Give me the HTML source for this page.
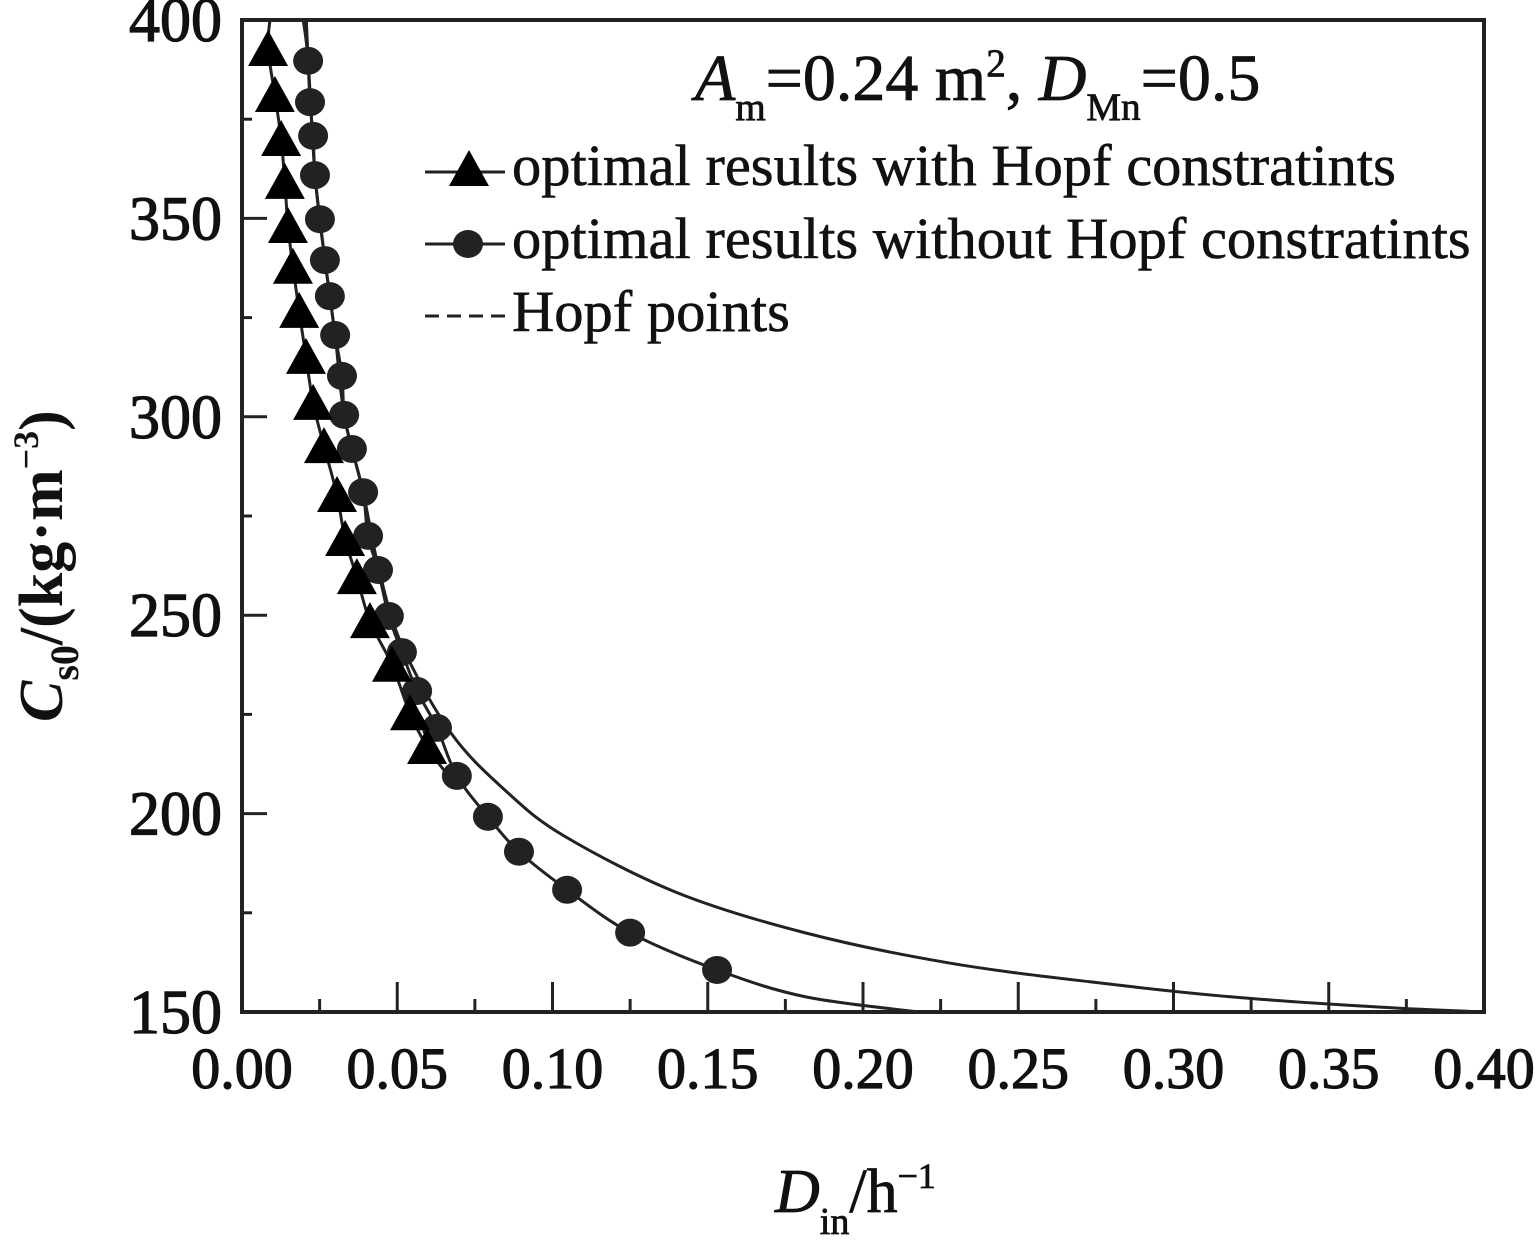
<!DOCTYPE html>
<html><head><meta charset="utf-8"><style>
body{margin:0;background:#fff}
svg{display:block}
text{font-family:"Liberation Serif",serif;fill:#111}
</style></head><body>
<svg id="chart" width="1536" height="1240" viewBox="0 0 1536 1240" xmlns="http://www.w3.org/2000/svg">
<g id="axes"></g>
<g id="series"></g>
<text x="695" y="100" font-size="66" stroke="#111" stroke-width="0.8"><tspan font-style="italic">A</tspan><tspan font-size="39" dy="20">m</tspan><tspan dy="-20">=0.24 m</tspan><tspan font-size="39" dy="-24">2</tspan><tspan dy="24">, </tspan><tspan font-style="italic">D</tspan><tspan font-size="39" dy="20">Mn</tspan><tspan dy="-20">=0.5</tspan></text>
<g>
 <g>
  <line x1="425" y1="172" x2="505" y2="172" stroke="#222" stroke-width="3"/>
  <polygon points="469,150 489,186 449,186" fill="#000"/>
  <text x="512" y="185" font-size="58.5" stroke="#111" stroke-width="0.6">optimal results with Hopf constratints</text>
 </g>
 <g>
  <line x1="425" y1="244" x2="505" y2="244" stroke="#222" stroke-width="3"/>
  <ellipse cx="468" cy="244" rx="15" ry="14" fill="#222"/>
  <text x="512" y="258" font-size="58.5" stroke="#111" stroke-width="0.6">optimal results without Hopf constratints</text>
 </g>
 <g>
  <line x1="425" y1="316" x2="505" y2="316" stroke="#222" stroke-width="3" stroke-dasharray="14,8"/>
  <text x="512" y="331" font-size="58.5" stroke="#111" stroke-width="0.6">Hopf points</text>
 </g>
</g>
<text x="775" y="1212" font-size="62" stroke="#111" stroke-width="0.8"><tspan font-style="italic">D</tspan><tspan font-size="38" dy="22">in</tspan><tspan dy="-22">/h</tspan><tspan font-size="36" dy="-24">−1</tspan></text>
<text transform="translate(62,722) rotate(-90)" font-size="62" font-weight="bold"><tspan font-style="italic">C</tspan><tspan font-size="40" dy="16">s0</tspan><tspan dy="-16">/(kg·m</tspan><tspan font-size="36" dy="-24">−3</tspan><tspan dy="24">)</tspan></text>
</svg>
<script>
const xTicks=["0.00","0.05","0.10","0.15","0.20","0.25","0.30","0.35","0.40"];
const yTicks=["150","200","250","300","350","400"];
const triX=[0.0084,0.0106,0.0126,0.0138,0.0148,0.0164,0.0184,0.0206,0.0229,0.0264,0.0306,0.0332,0.0370,0.0412,0.0483,0.0541,0.0596];
const triY=[392.7,381.1,370.0,359.2,348.1,337.8,326.7,315.1,303.5,292.6,280.3,269.2,259.6,248.5,237.5,225.3,216.8];
const cirX=[0.0213,0.0219,0.0229,0.0235,0.0251,0.0267,0.0283,0.0300,0.0322,0.0329,0.0354,0.0390,0.0406,0.0438,0.0473,0.0515,0.0564,0.0628,0.0692,0.0792,0.0892,0.1047,0.1250,0.1530];
const cirY=[389.7,379.3,370.8,360.9,349.8,339.5,330.4,320.6,310.3,300.5,291.9,281.0,270.0,261.4,249.8,240.7,230.9,221.6,209.5,199.2,190.4,180.8,170.0,160.6];
const cirTailX=[0.1816,0.218];
const cirTailY=[153.8,150];
const hopfX=[0.0197,0.0213,0.0235,0.0267,0.0300,0.0329,0.0390,0.0438,0.0512,0.0673,0.0857,0.1043,0.1404,0.1816,0.2274,0.2731,0.3188,0.3646,0.40];
const hopfY=[400,389.7,360.9,339.5,320.6,300.5,281.0,262.6,243.0,220.3,205.2,194.1,180.0,169.9,162.4,157.6,153.8,151.3,150];

const X0=242,X1=1484,Y0=1012,Y1=20;
const sx=v=>X0+(v-0)/(0.40)*(X1-X0);
const sy=v=>Y0-(v-150)/(250)*(Y0-Y1);
const NS="http://www.w3.org/2000/svg";
function mk(tag,parent,attrs){const e=document.createElementNS(NS,tag);for(const k in attrs)e.setAttribute(k,attrs[k]);parent.appendChild(e);return e;}
const axes=document.getElementById('axes'),series=document.getElementById('series');

const frame=mk('rect',axes,{x:X0,y:Y1,width:X1-X0,height:Y0-Y1,fill:'none',stroke:'#222','stroke-width':4});


for(let i=0;i<=16;i++){
 const v=i*0.025,x=sx(v),maj=i%2===0;
 const t=mk('line',axes,{x1:x,x2:x,y1:Y0,y2:Y0-(maj?30:13),stroke:'#222','stroke-width':3});
 
 
}
xTicks.forEach(s=>{
 const t=mk('text',axes,{x:sx(parseFloat(s)),y:1088,'font-size':58,'text-anchor':'middle',stroke:'#111','stroke-width':1.2});
 t.textContent=s;
 
 
});
for(let i=0;i<=10;i++){
 const v=150+i*25,y=sy(v),maj=i%2===0;
 const t=mk('line',axes,{x1:X0,x2:X0+(maj?25:10),y1:y,y2:y,stroke:'#222','stroke-width':3});
 
 
}
yTicks.forEach(s=>{
 const t=mk('text',axes,{x:222,y:sy(parseFloat(s))+21,'font-size':62,'text-anchor':'end',stroke:'#111','stroke-width':1.2});
 t.textContent=s;
 
 
});
function path(xs,ys){
 const p=xs.map((v,i)=>[sx(v),sy(ys[i])]);
 let d='M'+p[0][0].toFixed(1)+','+p[0][1].toFixed(1);
 for(let i=0;i<p.length-1;i++){
  const a=p[Math.max(0,i-1)],b=p[i],c=p[i+1],e=p[Math.min(p.length-1,i+2)];
  const c1=[b[0]+(c[0]-a[0])/6,b[1]+(c[1]-a[1])/6],c2=[c[0]-(e[0]-b[0])/6,c[1]-(e[1]-b[1])/6];
  d+=' C'+c1.map(n=>n.toFixed(1)).join(',')+' '+c2.map(n=>n.toFixed(1)).join(',')+' '+c[0].toFixed(1)+','+c[1].toFixed(1);
 }
 return d;
}
const hp=mk('path',series,{d:path(hopfX,hopfY),fill:'none',stroke:'#222','stroke-width':3});


const cl=mk('path',series,{d:path([0.0207].concat(cirX,cirTailX),[400].concat(cirY,cirTailY)),fill:'none',stroke:'#222','stroke-width':3});


const tl=mk('path',series,{d:path([0.0090].concat(triX,[0.065]),[400].concat(triY,[211])),fill:'none',stroke:'#222','stroke-width':3});


cirX.forEach((v,i)=>{
 const c=mk('ellipse',series,{cx:sx(v),cy:sy(cirY[i]),rx:15,ry:14,fill:'#222'});
 
 
});
triX.forEach((v,i)=>{
 const x=sx(v),y=sy(triY[i]);
 const p=mk('polygon',series,{points:`${x},${y-19} ${x+20},${y+17} ${x-20},${y+17}`,fill:'#000'});
 
 
});
</script>
</body></html>
